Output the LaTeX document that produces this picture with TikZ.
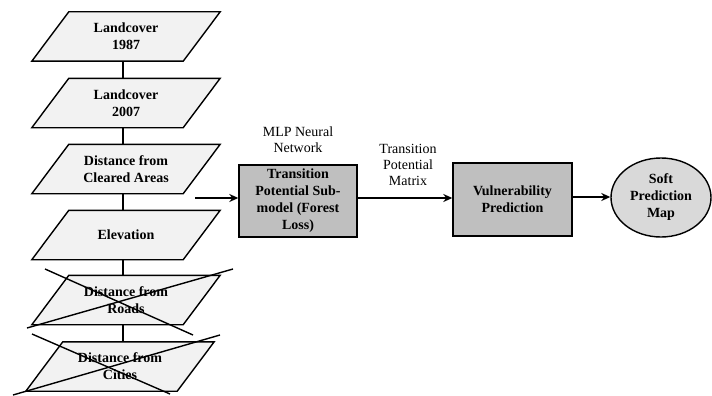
\documentclass[tikz,border=0pt]{standalone}
\usepackage{fontspec}
\setmainfont{Liberation Serif}
\usetikzlibrary{shapes.geometric,backgrounds,calc,arrows.meta}
\definecolor{parafill}{HTML}{F2F2F2}
\definecolor{boxfill}{HTML}{BFBFBF}
\definecolor{ellfill}{HTML}{D9D9D9}
\newcommand{\mypara}[1]{%
  \begin{scope}[on background layer]
    \draw[line width=1.4pt,fill=parafill,line join=miter]
      ($(#1.north west)+(37,0)$) -- (#1.north east) --
      ($(#1.south east)+(-37,0)$) -- (#1.south west) -- cycle;
  \end{scope}}
\begin{document}
\begin{tikzpicture}[x=1pt,y=-1pt,
  font=\fontsize{14}{17}\selectfont,
  paratext/.style={minimum width=188pt,minimum height=49pt,inner sep=0pt,align=center,font=\fontsize{14}{17}\selectfont\bfseries},
  procbox/.style={draw,line width=1.4pt,fill=boxfill,align=center,inner sep=0pt,font=\fontsize{14}{17}\selectfont\bfseries},
  conn/.style={line width=1.4pt},
  arr/.style={line width=1.6pt,-{Stealth[length=9pt,width=8pt]}},
  cross/.style={line width=1.4pt},
  lbl/.style={align=center,font=\fontsize{14}{16}\selectfont}]
\useasboundingbox (0,0) rectangle (712,396);
\node[paratext] (p1) at (126,36.5) {Landcover\\1987};
\node[paratext] (p2) at (126,103) {Landcover\\2007};
\node[paratext] (p3) at (126,169) {Distance from\\Cleared Areas};
\node[paratext] (p4) at (126,235) {Elevation};
\node[paratext] (p5) at (126,300) {Distance from\\Roads};
\node[paratext] (p6) at (120,366.5) {Distance from\\Cities};
\mypara{p1}\mypara{p2}\mypara{p3}\mypara{p4}\mypara{p5}\mypara{p6}
\draw[conn] ($(p1.south)+(-3,0)$) -- ($(p2.north)+(-3,0)$);
\draw[conn] ($(p2.south)+(-3,0)$) -- ($(p3.north)+(-3,0)$);
\draw[conn] ($(p3.south)+(-3,0)$) -- ($(p4.north)+(-3,0)$);
\draw[conn] ($(p4.south)+(-3,0)$) -- ($(p5.north)+(-3,0)$);
\draw[conn] ($(p5.south)+(-3,0)$) -- ($(p6.north)+(3,0)$);
% crosses
\draw[cross] (45,269) -- (193,335);
\draw[cross] (27,328) -- (233,269);
\draw[cross] (32,334) -- (170,394);
\draw[cross] (13,395) -- (220,335);
% process boxes
\node[procbox,minimum width=118pt,minimum height=72pt] (tp) at (298,201) {Transition\\Potential Sub-\\model (Forest\\Loss)};
\node[procbox,minimum width=119pt,minimum height=73pt] (vp) at (512.5,199.5) {Vulnerability\\Prediction};
\node[ellipse,draw,line width=1.4pt,fill=ellfill,minimum width=100pt,minimum height=79pt,inner sep=0pt,align=center,font=\fontsize{14}{17}\selectfont\bfseries] (sp) at (661,197.5) {Soft\\Prediction\\Map};
\node[lbl] (mlp) at (298,140) {MLP Neural\\Network};
\node[lbl] (tpm) at (408,165) {Transition\\Potential\\Matrix};
\coordinate (in) at (195,198);
\draw[arr] (in) -- (in -| tp.west);
\draw[arr] (tp.east |- 0,198) -- (vp.west |- 0,198);
\draw[arr] (vp.east |- 0,197) -- (sp.west |- 0,197);
\end{tikzpicture}
\end{document}
